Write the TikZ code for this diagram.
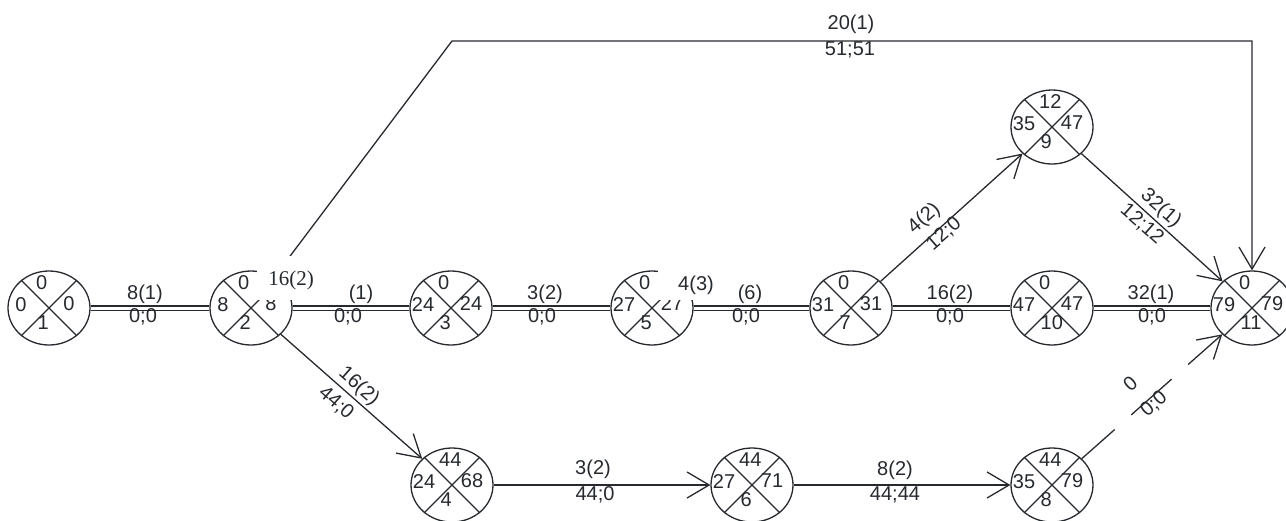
\documentclass[tikz,border=0pt]{standalone}
\usepackage{fontspec}
\setmainfont{Liberation Sans}
\newfontfamily\serifb{Liberation Serif}
\usetikzlibrary{shapes.geometric,arrows.meta,backgrounds}
\definecolor{ink}{RGB}{38,42,46}
\tikzset{
  ln/.style={draw=ink, line width=1.3pt},
  ev/.style={ellipse, draw=ink, line width=1.3pt, minimum width=82pt, minimum height=74pt, inner sep=0pt},
  num/.style={font=\fontsize{20}{24}\selectfont, text=ink, inner sep=0pt, text height=14.3pt, text depth=0pt},
  lab/.style={num},
  dbl/.style={draw=ink, double=white, double distance=3pt, line width=1.2pt},
  arr/.style={ln, -{Straight Barb[length=22pt,width=26pt]}},
  cover/.style={fill=white},
}
\newcommand{\evq}[5]{%
  \draw[ln] (#1.45) -- (#1.225) (#1.135) -- (#1.315);
  \node[num,anchor=west] (#1-t) at ([xshift=-13pt,yshift=26pt]#1.center) {#2};
  \node[num] (#1-l) at ([xshift=-28pt,yshift=4pt]#1.center) {#3};
  \node[num] (#1-r) at ([xshift=20pt,yshift=5pt]#1.center) {#4};
  \node[num,anchor=west] (#1-b) at ([xshift=-11.5pt,yshift=-14pt]#1.center) {#5};
}
\begin{document}
\begin{tikzpicture}[x=1pt,y=-1pt]
\useasboundingbox (0,0) rectangle (1286,520);
% events
\node[ev] (n1) at (49,308) {};
\node[ev] (n2) at (251,308) {};
\node[ev] (n3) at (451,308) {};
\node[ev] (n5) at (652,308) {};
\node[ev] (n7) at (851,308) {};
\node[ev] (n10) at (1052,308) {};
\node[ev] (n11) at (1252,308) {};
\node[ev] (n9) at (1052,127) {};
\node[ev] (n4) at (452,485) {};
\node[ev] (n6) at (752,485) {};
\node[ev] (n8) at (1052,485) {};
\evq{n1}{0}{0}{0}{1}
\evq{n2}{0}{8}{8}{2}
\evq{n3}{0}{24}{24}{3}
\evq{n5}{0}{27}{27}{5}
\evq{n7}{0}{31}{31}{7}
\evq{n10}{0}{47}{47}{10}
\evq{n11}{0}{79}{79}{11}
\evq{n9}{12}{35}{47}{9}
\evq{n4}{44}{24}{68}{4}
\evq{n6}{44}{27}{71}{6}
\evq{n8}{44}{35}{79}{8}
% critical (double) links
\begin{scope}[on background layer]
  \draw[dbl] (n1) -- (n2);
  \draw[dbl] (n2) -- (n3);
  \draw[dbl] (n3) -- (n5);
  \draw[dbl] (n5) -- (n7);
  \draw[dbl] (n7) -- (n10);
  \draw[dbl] (n10) -- (n11);
\end{scope}
% other links
\coordinate (c1) at (452,41);
\coordinate (c2) at (1252,41);
\draw[arr] (n2) -- (c1) -- (c2) -- (n11);
\draw[arr] (n2) -- (n4);
\draw[arr] (n7) -- (n9);
\draw[arr] (n9) -- (n11);
\draw[arr, dash pattern=on 54pt off 22pt, dash phase=10pt] (n8) -- (n11);
\draw[arr] (n4) -- (n6);
\draw[arr] (n6) -- (n8);
% labels
\node[lab] (l12a) at (145,292) {8(1)};
\node[lab] (l12b) at (143,315) {0;0};
\node[lab] (l23a) at (361,292) {(1)};
\node[lab] (l23b) at (348,315) {0;0};
\node[lab] (l35a) at (545,292) {3(2)};
\node[lab] (l35b) at (542,315) {0;0};
\node[lab] (l57a) at (750,292) {(6)};
\node[lab] (l57b) at (746,315) {0;0};
\node[lab] (l710a) at (950,292) {16(2)};
\node[lab] (l710b) at (950,315) {0;0};
\node[lab] (l1011a) at (1151,292) {32(1)};
\node[lab] (l1011b) at (1152,315) {0;0};
\node[lab] (ltopa) at (851,22.5) {20(1)};
\node[lab] (ltopb) at (850,48.5) {51;51};
\node[lab] (l46a) at (593,467) {3(2)};
\node[lab] (l46b) at (595,493) {44;0};
\node[lab] (l68a) at (895,468) {8(2)};
\node[lab] (l68b) at (895,493) {44;44};
\node[lab,rotate=-41.4] (l24a) at (360,385) {16(2)};
\node[lab,rotate=-41.4] (l24b) at (337,402) {44;0};
\node[lab,rotate=41.2] (l79a) at (923,217) {4(2)};
\node[lab,rotate=41.2] (l79b) at (943,233) {12;0};
\node[lab,rotate=-41.3] (l911a) at (1162,207) {32(1)};
\node[lab,rotate=-41.3] (l911b) at (1143,223) {12;12};
\node[lab,rotate=41.5] (l811a) at (1130,383) {0};
\node[lab,rotate=41.5] (l811b) at (1153,403) {0;0};
% labels with white backgrounds covering parts of events 2 and 5
\node[lab, cover, minimum width=68pt, minimum height=44pt, font=\serifb\fontsize{21}{24}\selectfont] (l2s) at (291,278) {16(2)};
\node[lab, cover, minimum width=77pt, minimum height=34pt] (l5s) at (696,283) {4(3)};
\end{tikzpicture}
\end{document}
